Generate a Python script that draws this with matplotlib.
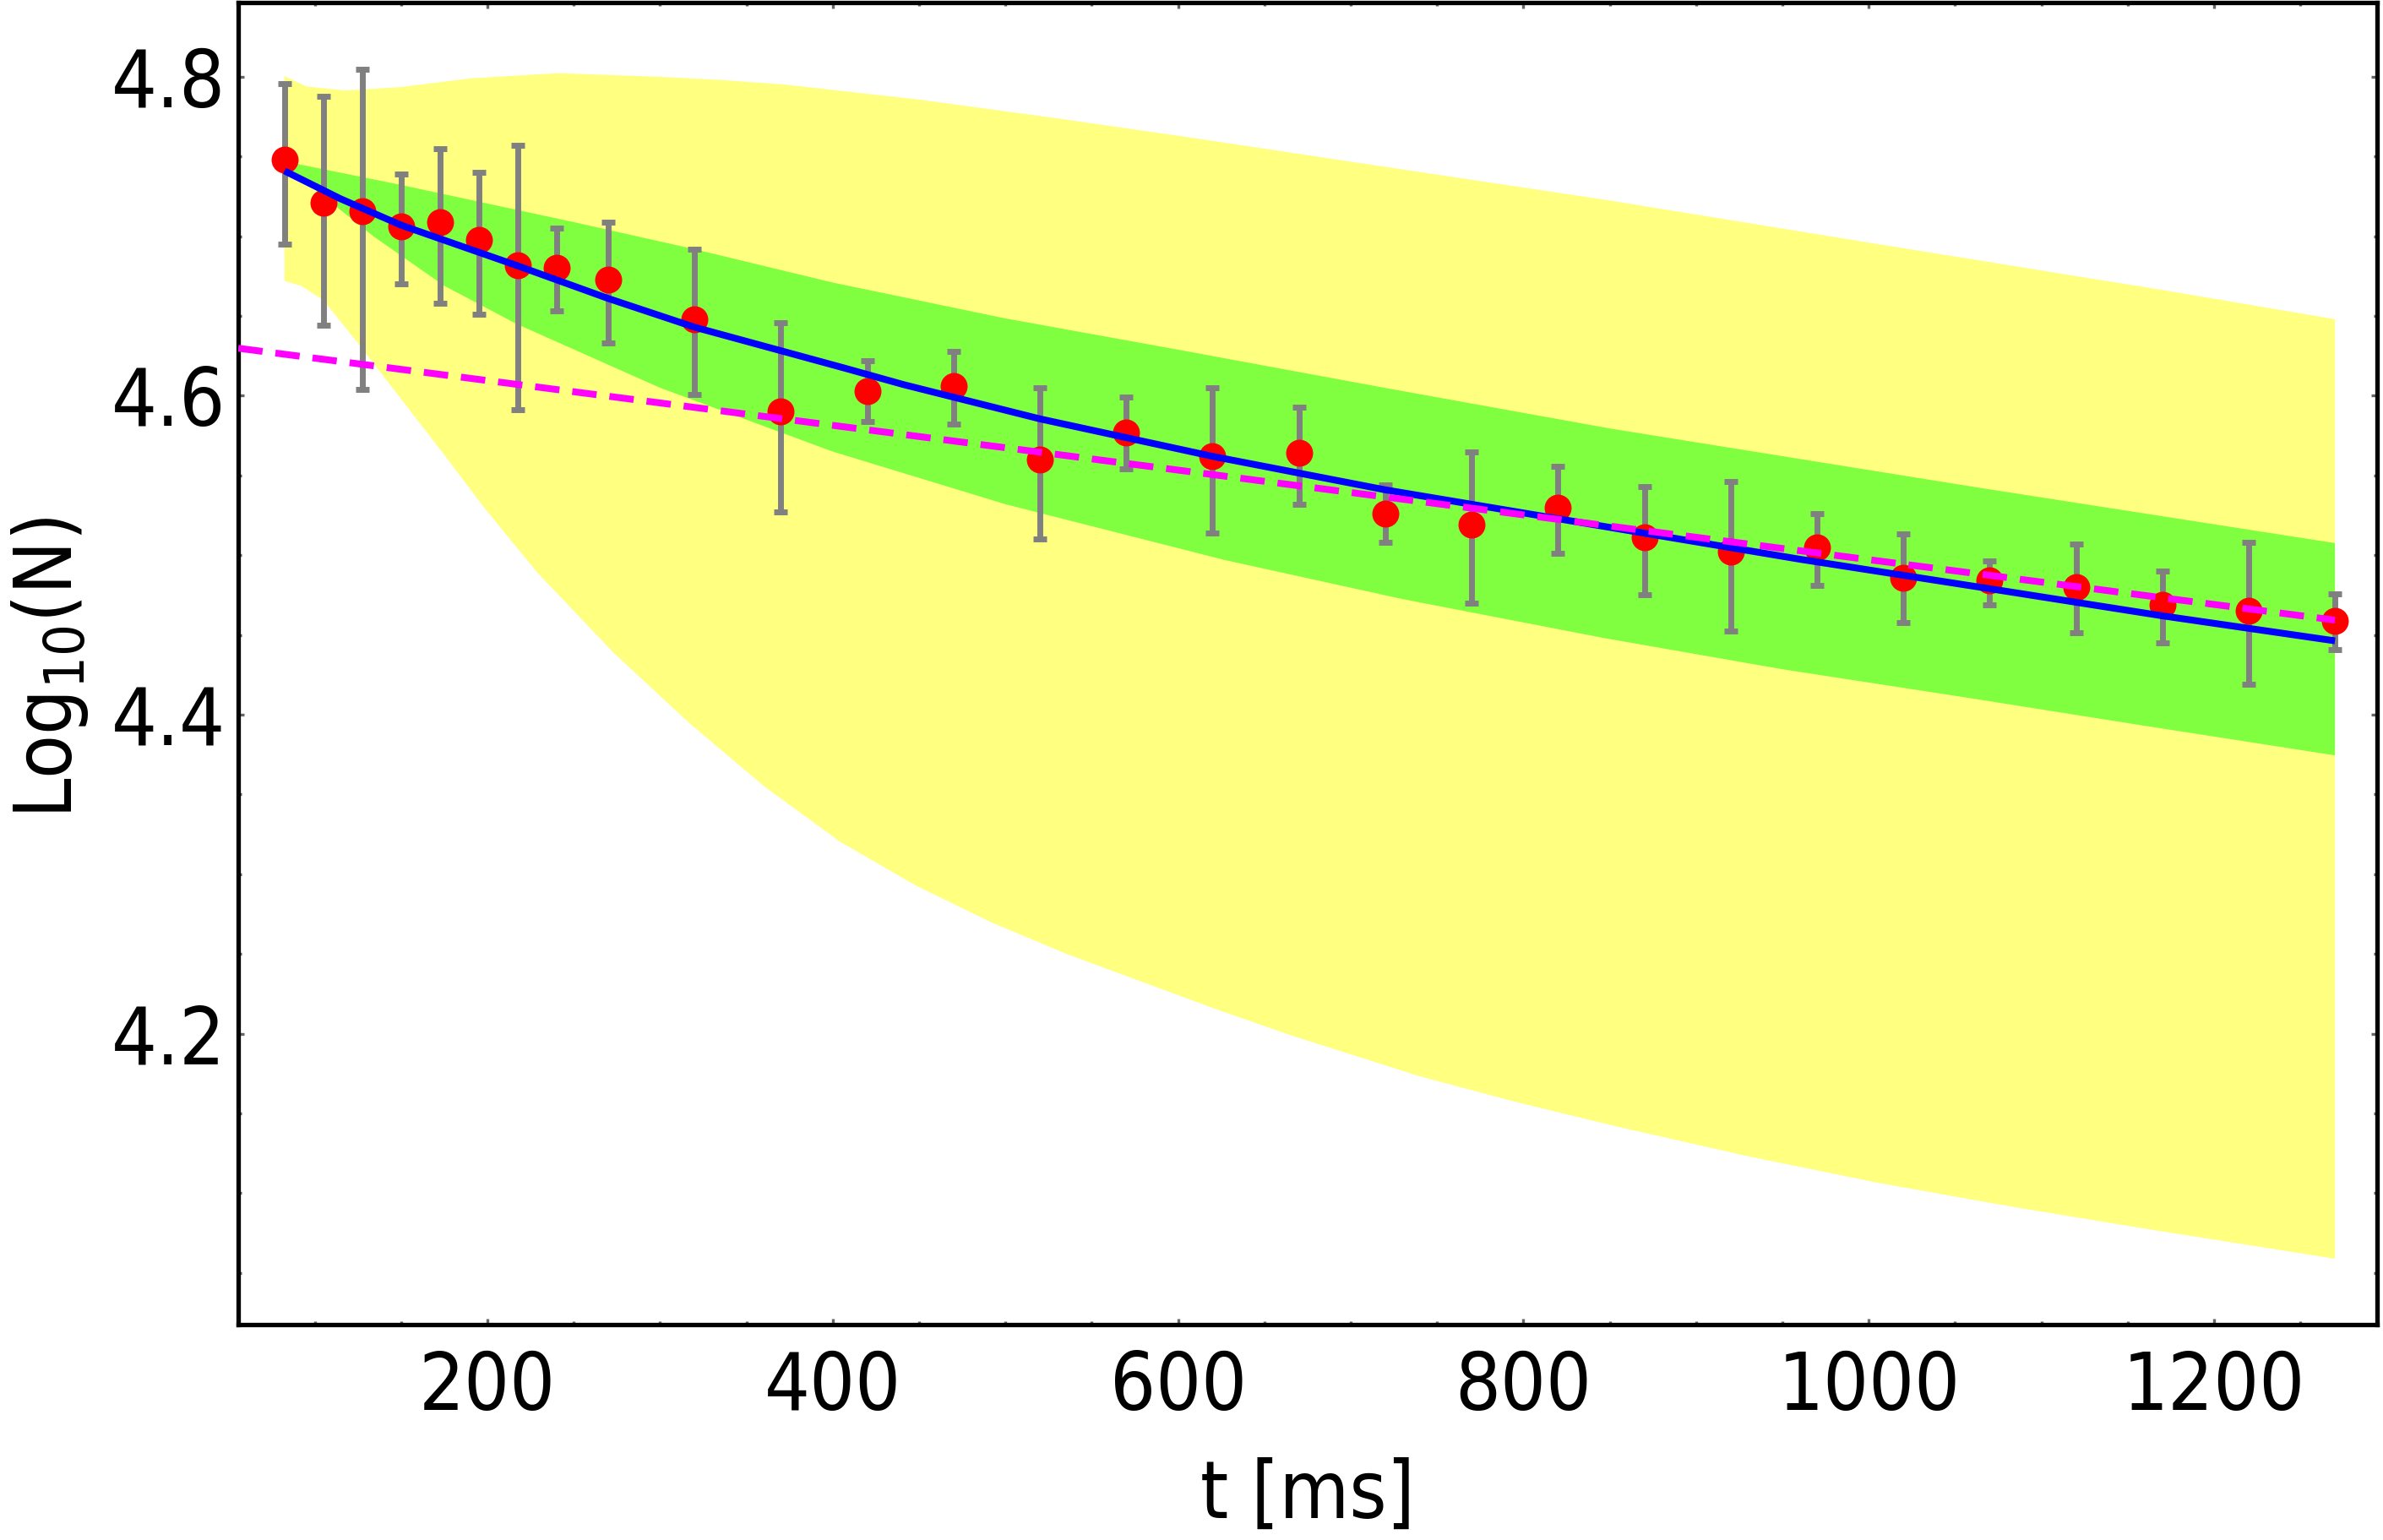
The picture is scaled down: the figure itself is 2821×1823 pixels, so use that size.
import matplotlib
matplotlib.use("Agg")
import matplotlib.pyplot as plt
import numpy as np
from matplotlib.ticker import MultipleLocator

plt.rcParams['font.family'] = ['DejaVu Sans']
plt.rcParams['font.stretch'] = 'condensed'
plt.rcParams['mathtext.default'] = 'regular'

# ---------------- data ----------------
t_pts = [82.5, 105, 127.5, 150, 172.5, 195, 217.5, 240, 270, 320, 370, 420, 470,
         520, 570, 620, 670, 720, 770, 820, 870, 920, 970, 1020, 1070, 1120, 1170,
         1220, 1270]
logN = [4.748, 4.721, 4.716, 4.706, 4.709, 4.698, 4.682, 4.680, 4.673, 4.648,
        4.590, 4.603, 4.606, 4.560, 4.577, 4.562, 4.564, 4.526, 4.519, 4.530,
        4.511, 4.502, 4.505, 4.486, 4.484, 4.480, 4.469, 4.465, 4.459]
err_top = [4.796, 4.788, 4.805, 4.739, 4.755, 4.740, 4.757, 4.705, 4.709, 4.692,
           4.646, 4.622, 4.628, 4.605, 4.599, 4.605, 4.593, 4.544, 4.565, 4.556,
           4.543, 4.546, 4.526, 4.5135, 4.4965, 4.507, 4.490, 4.508, 4.476]
err_bot = [4.695, 4.644, 4.604, 4.670, 4.658, 4.651, 4.591, 4.653, 4.633, 4.601,
           4.527, 4.584, 4.582, 4.510, 4.554, 4.514, 4.532, 4.508, 4.470, 4.501,
           4.475, 4.4525, 4.481, 4.458, 4.469, 4.4515, 4.445, 4.419, 4.441]

# fitted curve (blue)
t_fit = [82.5, 115, 150, 217.5, 270, 320, 407, 441, 520, 620, 720, 847, 960,
         1070, 1170, 1270]
y_fit = [4.741, 4.7235, 4.707, 4.6815, 4.661, 4.643, 4.6173, 4.607, 4.5855,
         4.562, 4.541, 4.518, 4.4975, 4.479, 4.462, 4.4463]

# exponential decay (magenta dashed)
t_exp = [55.7, 1270]
y_exp = [4.6298, 4.4593]

# green band (1 sigma)
t_green_up = [82.5, 150, 250, 320, 400, 500, 600, 720, 850, 1060, 1270]
y_green_up = [4.747, 4.7322, 4.7089, 4.6919, 4.671, 4.6485, 4.6289, 4.6049,
              4.5795, 4.543, 4.5076]
t_green_lo = [82.5, 104, 134, 175, 217, 300, 400, 500, 627, 730, 847, 950,
              1058, 1160, 1270]
y_green_lo = [4.744, 4.726, 4.700, 4.669, 4.645, 4.605, 4.565, 4.532, 4.497,
              4.4725, 4.448, 4.4285, 4.4105, 4.393, 4.3745]

# yellow band (2 sigma)
t_yel_up = [82.5, 95, 118, 150, 190, 241, 300, 336, 372, 451, 530, 610, 689,
            848, 1006, 1172, 1270]
y_yel_up = [4.8005, 4.794, 4.7914, 4.7936, 4.799, 4.8023, 4.800, 4.798, 4.7952,
            4.7856, 4.774, 4.7615, 4.7486, 4.7228, 4.695, 4.666, 4.648]
t_yel_lo = [82.5, 92, 105, 115, 125, 150, 175, 198, 229, 273, 317, 360.5, 404,
            448, 492, 535.5, 579, 622.5, 666, 740, 796.5, 853, 929, 1005,
            1081.5, 1158, 1270]
y_yel_lo = [4.672, 4.669, 4.660, 4.6465, 4.633, 4.598, 4.563, 4.530, 4.489,
            4.4389, 4.3947, 4.3549, 4.3205, 4.2929, 4.2697, 4.2499, 4.2325,
            4.2151, 4.1987, 4.1732, 4.1569, 4.142, 4.1233, 4.1065, 4.0917,
            4.078, 4.0588]

x_ticks = [200, 400, 600, 800, 1000, 1200]
y_ticks = [4.2, 4.4, 4.6, 4.8]

# ---------------- figure ----------------
fig = plt.figure(figsize=(14.105, 9.115), dpi=200)
ax = fig.add_axes([0.09997, 0.13988, 0.89755, 0.85847])

ax.fill(np.concatenate([t_yel_up, t_yel_lo[::-1]]),
        np.concatenate([y_yel_up, y_yel_lo[::-1]]),
        color='#FFFF80', lw=0, zorder=1)
ax.fill(np.concatenate([t_green_up, t_green_lo[::-1]]),
        np.concatenate([y_green_up, y_green_lo[::-1]]),
        color='#80FF40', lw=0, zorder=2)

logN_a = np.array(logN)
yerr = [logN_a - np.array(err_bot), np.array(err_top) - logN_a]
ax.errorbar(t_pts, logN, yerr=yerr, fmt='none', ecolor='#808080',
            elinewidth=2.5, capsize=3.0, capthick=2.5, zorder=3)
ax.plot(t_pts, logN, 'o', color='#FF0000', markersize=11.5,
        markeredgewidth=0, zorder=4)
ax.plot(t_fit, y_fit, '-', color='#0000FF', lw=2.9, zorder=5,
        solid_capstyle='butt')
ax.plot(t_exp, y_exp, color='#FF00FF', lw=2.9, dashes=(3.6, 1.9), zorder=6)

ax.set_xlim(55.7, 1294.4)
ax.set_ylim(4.0175, 4.8466)

ax.xaxis.set_major_locator(plt.FixedLocator(x_ticks))
ax.xaxis.set_minor_locator(MultipleLocator(50))
ax.yaxis.set_major_locator(plt.FixedLocator(y_ticks))
ax.yaxis.set_minor_locator(MultipleLocator(0.05))
ax.set_xticklabels([str(v) for v in x_ticks])
ax.set_yticklabels([f"{v:.1f}" for v in y_ticks])

ax.tick_params(which='both', direction='in', top=True, right=True,
               color='#666666', width=1.2, labelsize=34, labelcolor='black')
ax.tick_params(axis='x', which='both', pad=10.5)
ax.tick_params(axis='y', which='both', pad=5.4)
ax.tick_params(which='major', length=2.6)
ax.tick_params(which='minor', length=1.6)

for sp in ax.spines.values():
    sp.set_linewidth(1.9)
    sp.set_color('black')

ax.set_xlabel('t [ms]', fontsize=34)
ax.set_ylabel(r'Log$_{10}$(N)', fontsize=34)
ax.xaxis.set_label_coords(0.5, -0.1003)
ax.yaxis.set_label_coords(-0.069, 0.497)

fig.savefig('out.png', dpi=200)
